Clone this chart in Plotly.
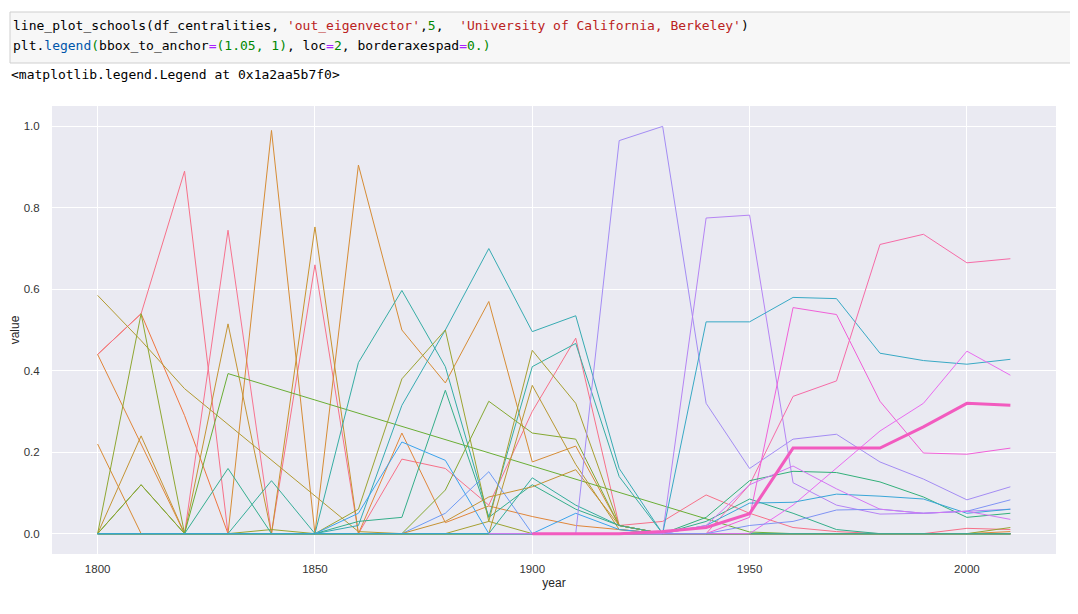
import plotly.graph_objects as go

N = None

years = [1800, 1810, 1820, 1830, 1840, 1850, 1860, 1870, 1880, 1890, 1900,
         1910, 1920, 1930, 1940, 1950, 1960, 1970, 1980, 1990, 2000, 2010]

# one list per school, out_eigenvector by decade
#              1800   1810   1820   1830   1840   1850   1860   1870   1880   1890   1900   1910   1920   1930   1940   1950   1960   1970   1980   1990   2000   2010
orange_red = [0.44,  0.54,  0.29,  0,     0,     0,     0,     0,     0,     0,     0,     0,     0,     0,     0,     0,     0,     0,     0,     0,     0,     0]
red        = [0.44,  0.54,  0.89,  0,     0,     0.66,  0,     0.183, 0.16,  0.07,  0.30,  0.48,  0.02,  0.03,  0.095, 0.05,  0.015, 0.005, 0,     0,     0.013, 0.01]
rose       = [0,     0,     0,     0.745, 0,     0,     0,     0,     0,     0,     0,     0,     0,     0,     0,     0,     0,     0,     0,     0,     0,     0]
brown      = [0,     0,     0,     0,     0.99,  0,     0.905, 0.50,  0.37,  0.57,  0.176, 0.215, 0.02,  0,     0,     0,     0,     0,     0,     0,     0,     0]
orange     = [0.44,  0.22,  0,     0,     0,     0,     0,     0.247, 0.027, 0.068, 0.042, 0.02,  0.01,  0,     0,     0,     0,     0,     0,     0,     0,     0.005]
ochre      = [0,     0,     0,     0,     0,     0.753, 0,     0,     0,     0,     0,     0,     0,     0,     0,     0,     0,     0,     0,     0,     0,     0]
orange2    = [0.22,  0,     0,     0,     0,     0,     0,     0,     0,     0,     0,     0,     0,     0,     0,     0,     0,     0,     0,     0,     0,     0]
olive_br   = [0,     0.24,  0,     0.515, 0,     0,     0,     0,     0,     0,     0,     0,     0,     0,     0,     0,     0,     0,     0,     0,     0,     0]
olive_long = [0.585, 0.474, 0.356, N,     N,     N,     0.005, 0,     0,     0,     0,     0,     0,     0,     0,     0,     0,     0,     0,     0,     0,     0]
olive_grn  = [0,     0.54,  0,     0,     0,     0,     0,     0,     0,     0,     0,     0,     0,     0,     0,     0,     0,     0,     0,     0,     0,     0]
dark_grn   = [0,     0.12,  0,     0,     0,     0,     0,     0,     0,     0,     0,     0,     0,     0,     0,     0,     0,     0,     0,     0,     0,     0]
olive_sm   = [0,     0.12,  0,     0,     0.01,  0,     0,     0,     0,     0,     0,     0,     0,     0,     0,     0,     0,     0,     0,     0,     0,     0.015]
green_long = [0,     0,     0,     0.393, N,     N,     N,     N,     N,     N,     N,     N,     N,     N,     N,     0.004, 0,     0,     0,     0,     0,     0]
teal_a     = [0,     0,     0,     0.16,  0,     0,     0,     0,     0,     0,     0,     0,     0,     0,     0,     0,     0,     0,     0,     0,     0,     0]
teal_b     = [0,     0,     0,     0,     0.13,  0,     0,     0,     0,     0,     0,     0,     0,     0,     0,     0,     0,     0,     0,     0,     0,     0]
teal_c     = [0,     0,     0,     0,     0,     0,     0.42,  0.597, 0.41,  0.04,  0.41,  0.467, 0.14,  0,     0,     0,     0,     0,     0,     0,     0,     0]
teal_d     = [0,     0,     0,     0,     0,     0,     0.02,  0.315, 0.50,  0.70,  0.496, 0.535, 0.16,  0,     0,     0,     0,     0,     0,     0,     0,     0]
teal_e     = [0,     0,     0,     0,     0,     0,     0.03,  0.04,  0.352, 0.04,  0.12,  0.06,  0.02,  0,     0.03,  0.085, 0.05,  0.01,  0,     0,     0,     0]
olive_a    = [0,     0,     0,     0,     0,     0,     0.06,  0.38,  0.50,  0.03,  0,     0,     0,     0,     0,     0,     0,     0,     0,     0,     0,     0]
olive_b    = [0,     0,     0,     0,     0,     0,     0,     0,     0.107, 0.325, 0.247, 0.232, 0.02,  0,     0,     0,     0,     0,     0,     0,     0,     0]
olive_c    = [0,     0,     0,     0,     0,     0,     0,     0,     0,     0.03,  0.45,  0.32,  0.02,  0,     0,     0,     0,     0,     0,     0,     0,     0]
olive_d    = [0,     0,     0,     0,     0,     0,     0,     0,     0,     0,     0.364, 0.17,  0.01,  0,     0,     0,     0,     0,     0,     0,     0,     0]
blue       = [0,     0,     0,     0,     0,     0,     0.05,  0.225, 0.18,  0,     0,     0.05,  0.01,  0,     0,     0,     0,     0,     0,     0,     0,     0]
light_blue = [0,     0,     0,     0,     0,     0,     0,     0,     0.05,  0.152, 0,     0,     0,     0,     0,     0,     0,     0,     0,     0,     0,     0]
brown2     = [0,     0,     0,     0,     0,     0,     0,     0,     0.03,  0.09,  0.115, 0.157, 0.02,  0,     0,     0,     0,     0,     0,     0,     0,     0]
teal_f     = [0,     0,     0,     0,     0,     0,     0,     0,     0,     0,     0.137, 0.07,  0.02,  0,     0,     0,     0,     0,     0,     0,     0,     0]
purple     = [N,     N,     N,     N,     N,     N,     N,     N,     N,     0,     0,     0,     0.965, 1.0,   0.32,  0.16,  0.232, 0.244, 0.176, 0.134, 0.083, 0.115]
violet     = [N,     N,     N,     N,     N,     N,     N,     N,     N,     0,     0,     0,     0,     0,     0.775, 0.782, 0.125, 0.07,  0.048, 0.05,  0.055, 0.06]
cyan       = [0,     0,     0,     0,     0,     0,     0,     0,     0,     0,     0,     0,     0,     0,     0.52,  0.52,  0.58,  0.577, 0.443, 0.425, 0.416, 0.428]
pink       = [N,     N,     N,     N,     N,     N,     N,     N,     N,     N,     0,     0,     0,     0,     0,     0.12,  0.337, 0.375, 0.71,  0.735, 0.665, 0.675]
magenta    = [N,     N,     N,     N,     N,     N,     N,     N,     N,     N,     0,     0,     0,     0,     0,     0.04,  0.555, 0.538, 0.325, 0.198, 0.195, 0.21]
magenta2   = [N,     N,     N,     N,     N,     N,     N,     N,     N,     N,     0,     0,     0,     0,     0,     0,     0.07,  0.16,  0.252, 0.32,  0.448, 0.389]
sea_green  = [0,     0,     0,     0,     0,     0,     0,     0,     0,     0,     0,     0,     0,     0,     0.04,  0.13,  0.153, 0.15,  0.127, 0.09,  0.04,  0.05]
sky_blue   = [0,     0,     0,     0,     0,     0,     0,     0,     0,     0,     0,     0,     0,     0,     0.02,  0.075, 0.077, 0.097, 0.092, 0.085, 0.05,  0.06]
periwinkle = [N,     N,     N,     N,     N,     N,     N,     N,     N,     0,     0,     0,     0,     0,     0,     0.02,  0.03,  0.058, 0.06,  0.05,  0.055, 0.083]
lilac      = [N,     N,     N,     N,     N,     N,     N,     N,     N,     0,     0,     0,     0,     0,     0.02,  0.12,  0.166, 0.11,  0.06,  0.05,  0.055, 0.035]
berkeley   = [N,     N,     N,     N,     N,     N,     N,     N,     N,     N,     0,     0,     0,     0.005, 0.015, 0.049, 0.21,  0.21,  0.21,  0.262, 0.32,  0.315]

schools = [
    (orange_red, "#ef7640"), (red, "#f77189"), (rose, "#f7738f"), (brown, "#d68c35"),
    (orange, "#e0863a"), (ochre, "#c9922f"), (orange2, "#d98b34"), (olive_br, "#c49434"),
    (olive_long, "#b39a31"), (olive_grn, "#8fa631"), (dark_grn, "#4fa838"), (olive_sm, "#97a431"),
    (green_long, "#6aae35"), (teal_a, "#34ae8e"), (teal_b, "#35ad98"), (teal_c, "#36ada4"),
    (teal_d, "#37abb2"), (teal_e, "#34ae8a"), (olive_a, "#9ba331"), (olive_b, "#85a831"),
    (olive_c, "#a79f31"), (olive_d, "#b89832"), (blue, "#3ba3ec"), (light_blue, "#6e9bf4"),
    (brown2, "#c69232"), (teal_f, "#35ad9c"), (purple, "#a48cf4"), (violet, "#b584f4"),
    (cyan, "#38a9c5"), (pink, "#f66ba7"), (magenta, "#f060d8"), (magenta2, "#e96cf0"),
    (sea_green, "#33b07a"), (sky_blue, "#39a6d8"), (periwinkle, "#8093f4"), (lilac, "#d377f4"),
]

fig = go.Figure()
for vals, col in schools:
    fig.add_trace(go.Scatter(x=years, y=vals, mode="lines", connectgaps=True,
                             line=dict(color=col, width=1), hoverinfo="skip"))

# the highlighted school
fig.add_trace(go.Scatter(x=years, y=berkeley, mode="lines", connectgaps=True,
                         line=dict(color="#f25bbf", width=3), hoverinfo="skip"))

# page pixel -> paper helpers for the notebook chrome (plot area is x 52..1056, y 106..554)
def px_x(p):
    return (p - 52) / 1004.0

def px_y(p):
    return (554 - p) / 448.0

mono = "DejaVu Sans Mono"
S = '<span style="color:#ba2121">'
NUM = '<span style="color:#008800">'
OP = '<span style="color:#aa22ff">'
FN = '<span style="color:#0055aa">'
E = '</span>'

line1 = ("line_plot_schools(df_centralities, " + S + "'out_eigenvector'" + E + "," + NUM + "5" + E +
         ",&nbsp;&nbsp;" + S + "'University of California, Berkeley'" + E + ")")
line2 = ("plt." + FN + "legend" + E + NUM + "(" + E + "bbox_to_anchor" + OP + "=" + E + NUM + "(1.05, 1)" + E +
         ", loc" + OP + "=" + E + NUM + "2" + E + ", borderaxespad" + OP + "=" + E + NUM + "0.)" + E)

fig.add_shape(type="rect", xref="paper", yref="paper",
              x0=px_x(10), x1=px_x(1077), y0=px_y(63), y1=px_y(12),
              fillcolor="#f7f7f7", line=dict(color="#cfcfcf", width=1), layer="below")

fig.add_annotation(text=line1, xref="paper", yref="paper", x=px_x(11), y=px_y(26),
                   xanchor="left", yanchor="middle", showarrow=False,
                   font=dict(family=mono, size=13, color="#000000"))
fig.add_annotation(text=line2, xref="paper", yref="paper", x=px_x(11), y=px_y(45),
                   xanchor="left", yanchor="middle", showarrow=False,
                   font=dict(family=mono, size=13, color="#000000"))
fig.add_annotation(text="&lt;matplotlib.legend.Legend at 0x1a2aa5b7f0&gt;", xref="paper", yref="paper",
                   x=px_x(9), y=px_y(75), xanchor="left", yanchor="middle", showarrow=False,
                   font=dict(family=mono, size=13, color="#000000"))

# the page body has an 8px margin, so the figure is sized and placed to compensate
fig.update_layout(
    width=1070, height=606,
    margin=dict(l=44, r=22, t=98, b=60, autoexpand=False),
    paper_bgcolor="white", plot_bgcolor="#eaeaf2",
    showlegend=False,
    font=dict(family="Liberation Sans, Arial, sans-serif", size=11.5, color="#333333"),
)
fig.update_xaxes(range=[1789.5, 2020.5], tickvals=[1800, 1850, 1900, 1950, 2000],
                 showgrid=True, gridcolor="white", gridwidth=1, zeroline=False, automargin=False,
                 ticks="outside", ticklen=4, tickcolor="rgba(0,0,0,0)",
                 title=dict(text="year", font=dict(size=12, color="#262626"), standoff=4))
fig.update_yaxes(range=[-0.05, 1.05], tickvals=[0, 0.2, 0.4, 0.6, 0.8, 1.0], tickformat=".1f",
                 showgrid=True, gridcolor="white", gridwidth=1, zeroline=False, automargin=False,
                 ticks="outside", ticklen=9, tickcolor="rgba(0,0,0,0)",
                 title=dict(text="value", font=dict(size=12, color="#262626"), standoff=8))

fig.write_html("out.html")
